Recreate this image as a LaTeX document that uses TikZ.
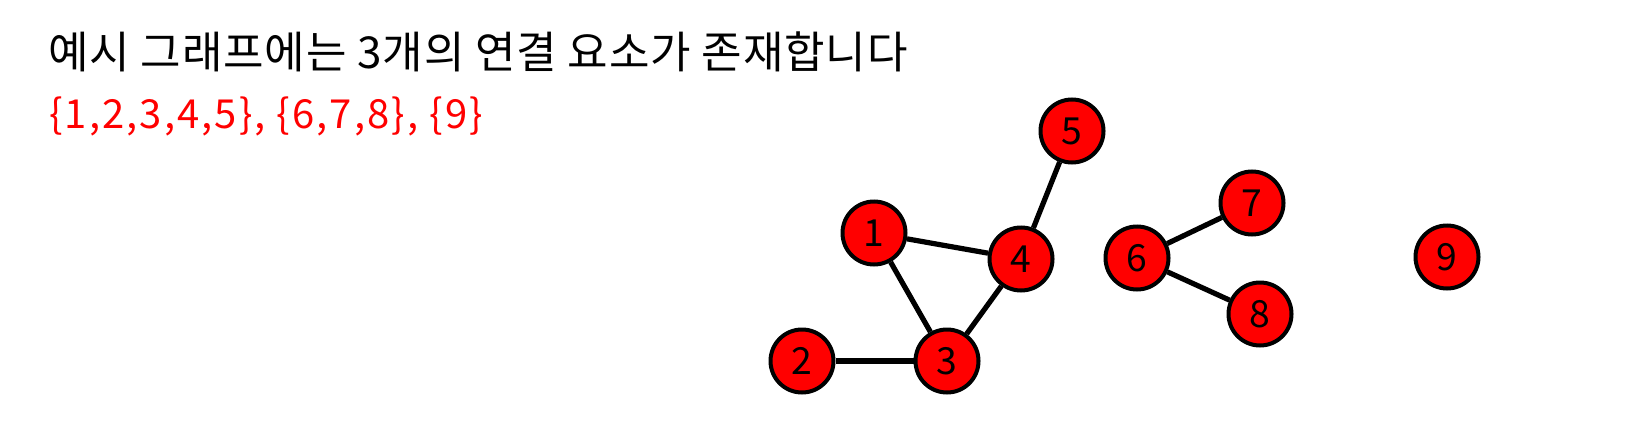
\documentclass[tikz,border=0pt]{standalone}
\usepackage{fontspec}
\setmainfont{Noto Sans CJK KR}
\newfontfamily\titlefont[LetterSpace=2]{Noto Sans CJK KR}
\newfontfamily\compfont[LetterSpace=5.2]{Noto Sans CJK KR}
\begin{document}
\begin{tikzpicture}[x=0.75pt,y=-0.75pt,
  vtx/.style={circle,draw=black,fill=red,line width=3pt,minimum size=47.25pt,inner sep=0pt,font=\fontsize{28}{30}\selectfont},
  edge/.style={line width=3.9pt,black}]
\useasboundingbox (0,0) rectangle (1632,446);
\node[anchor=base west,inner sep=0pt,font=\titlefont\fontsize{33}{36}\selectfont] (title) at (48,68) {예시 그래프에는 3개의 연결 요소가 존재합니다};
\node[anchor=base west,inner sep=0pt,text=red,font=\compfont\fontsize{30}{34}\selectfont] (comp) at (49,128) {\{1,2,3,4,5\}, \{6,7,8\}, \{9\}};
\node[vtx] (n1) at (874,233) {1};
\node[vtx] (n2) at (802,361) {2};
\node[vtx] (n3) at (947,361) {3};
\node[vtx] (n4) at (1021,259) {4};
\node[vtx] (n5) at (1072,131) {5};
\node[vtx] (n6) at (1137,258) {6};
\node[vtx] (n7) at (1252,203) {7};
\node[vtx] (n8) at (1260,314) {8};
\node[vtx] (n9) at (1447,257) {9};
\draw[edge] (n1) -- (n4);
\draw[edge] (n1) -- (n3);
\draw[edge] (n2) -- (n3);
\draw[edge] (n3) -- (n4);
\draw[edge] (n4) -- (n5);
\draw[edge] (n6) -- (n7);
\draw[edge] (n6) -- (n8);
\end{tikzpicture}
\end{document}
